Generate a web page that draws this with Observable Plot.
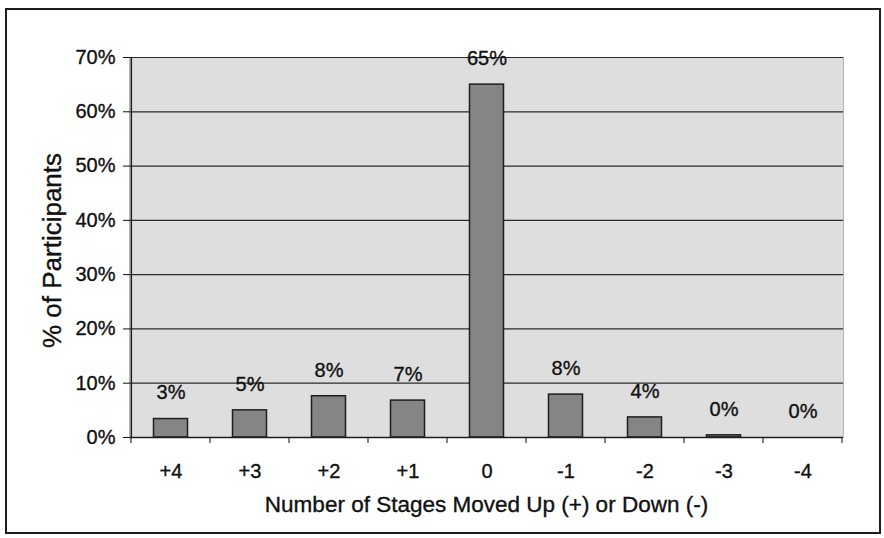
<!DOCTYPE html>
<html>
<head>
<meta charset="utf-8">
<script src="https://cdn.jsdelivr.net/npm/d3@7"></script>
<script src="https://cdn.jsdelivr.net/npm/@observablehq/plot@0.6"></script>
<style>
  html, body { margin: 0; padding: 0; background: #fff; }
  #wrap { position: relative; width: 884px; height: 538px; }
  #wrap .border {
    position: absolute; left: 5px; top: 8px; width: 872px; height: 522px;
    border: 2px solid #1e1e1e; pointer-events: none;
  }
  #wrap svg text { stroke: #111; stroke-width: 0.35px; }
</style>
</head>
<body>
<div id="wrap"><div class="border"></div></div>
<script>
// Change in stage between the two surveys, most upward move first
const categories = ["+4", "+3", "+2", "+1", "0", "-1", "-2", "-3", "-4"];
// Share of participants in each category (percent)
const percents = [3.4, 5.0, 7.6, 6.8, 65.0, 7.9, 3.7, 0.4, 0];
// Value-axis ticks (percent)
const yTicks = [0, 10, 20, 30, 40, 50, 60, 70];
const xTitle = "Number of Stages Moved Up (+) or Down (-)";
const yTitle = "% of Participants";

const rows = categories.map((c, i) => ({stage: c, pct: percents[i]}));
const pctLabel = v => `${Math.round(v)}%`;
const font = "'Liberation Sans', Arial, sans-serif";

// Small downward ticks on the category axis, drawn at the band boundaries
function bandBoundaryTicks(index, scales, values, dims) {
  const g = d3.create("svg:g").attr("stroke", "#333").attr("stroke-width", 1.2);
  const x = scales.x;
  const bw = typeof x.bandwidth === "function" ? x.bandwidth()
    : (dims.width - dims.marginLeft - dims.marginRight) / categories.length;
  const y0 = scales.y(0);
  const edges = categories.map(c => x(c)).concat([x(categories[categories.length - 1]) + bw]);
  for (const e of edges) {
    g.append("line").attr("x1", e).attr("x2", e).attr("y1", y0).attr("y2", y0 + 6);
  }
  return g.node();
}

const chart = Plot.plot({
  width: 884,
  height: 538,
  marginLeft: 129,
  marginRight: 41,
  marginTop: 57,
  marginBottom: 101,
  style: {fontFamily: font, background: "transparent", overflow: "visible"},
  x: {type: "band", domain: categories, padding: 0},
  y: {domain: [0, 70]},
  marks: [
    Plot.frame({fill: "#dedede", stroke: "#b5b5b5"}),
    Plot.ruleY(yTicks, {stroke: "#2a2a2a", strokeWidth: 1.2}),
    Plot.barY(rows, {
      x: "stage", y: "pct",
      fill: "#858585", stroke: "#1e1e1e", strokeWidth: 1.5,
      insetLeft: 22.5, insetRight: 22.5
    }),
    Plot.text(rows, {
      x: "stage", y: "pct", text: d => pctLabel(d.pct),
      dy: -26, fontSize: 20, fill: "#111", letterSpacing: "-0.8px"
    }),
    Plot.axisY({
      ticks: yTicks, tickFormat: d => `${d}%`, tickSize: 6, tickPadding: 8,
      fontSize: 20, letterSpacing: "-0.8px", color: "#111", label: null
    }),
    Plot.axisX({
      tickSize: 0, tickPadding: 26, fontSize: 20, letterSpacing: "-0.8px", color: "#111", label: null
    }),
    Plot.text([yTitle], {
      frameAnchor: "left", textAnchor: "middle", rotate: -90, dx: -77, dy: 3,
      fontSize: 26, letterSpacing: "1px", fill: "#111"
    }),
    Plot.text([xTitle], {
      frameAnchor: "bottom", dy: 67, lineAnchor: "middle",
      fontSize: 22.5, letterSpacing: "-0.3px", fill: "#111"
    }),
    bandBoundaryTicks,
    Plot.ruleY([0], {stroke: "#1e1e1e", strokeWidth: 1.5}),
    Plot.ruleX([categories[0]], {dx: -39.67, stroke: "#1e1e1e", strokeWidth: 1.5})
  ]
});

document.getElementById("wrap").prepend(chart);
</script>
</body>
</html>
